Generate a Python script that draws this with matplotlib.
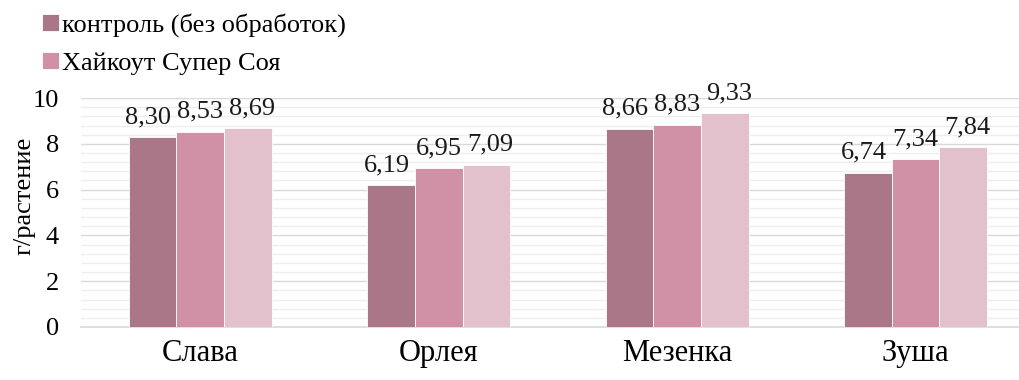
import numpy as np
import matplotlib
matplotlib.use('Agg')
import matplotlib.pyplot as plt
from matplotlib.ticker import MultipleLocator

plt.rcParams['font.family'] = ['Liberation Serif', 'DejaVu Serif']

# data
categories = ['Слава', 'Орлея', 'Мезенка', 'Зуша']
control = [8.30, 6.19, 8.66, 6.74]
haykout = [8.53, 6.95, 8.83, 7.34]
third = [8.69, 7.09, 9.33, 7.84]
series_names = ['контроль (без обработок)', 'Хайкоут Супер Соя', None]
colors = ['#A97787', '#D091A6', '#E3C1CC']

fig = plt.figure(figsize=(10.19, 3.80), dpi=100)
ax = fig.add_axes([0.0795, 0.1395, 0.936, 0.6025])

x = np.arange(len(categories))
w = 0.2
handles = []
for k, (vals, col) in enumerate(zip([control, haykout, third], colors)):
    bars = ax.bar(x + (k - 1) * w, vals, width=w, color=col,
                  edgecolor='white', linewidth=0.6, zorder=3)
    handles.append(bars)
    # outer labels nudged sideways a bit so they don't touch
    dx = (k - 1) * 3
    for b, v in zip(bars, vals):
        ax.annotate(('%.2f' % v).replace('.', ','),
                    (b.get_x() + b.get_width() / 2, v),
                    xytext=(dx, 10), textcoords='offset points',
                    ha='center', va='baseline', fontsize=19,
                    color='#1a1a1a')

ax.set_xlim(-0.5, 3.5)
ax.set_ylim(0, 10)
ax.yaxis.set_major_locator(MultipleLocator(2))
ax.yaxis.set_minor_locator(MultipleLocator(0.4))
ax.grid(which='major', axis='y', color='#D9D9D9', linewidth=1.0, zorder=0)
ax.grid(which='minor', axis='y', color='#EEEEEE', linewidth=1.0, zorder=0)
ax.set_xticks(x)
ax.set_xticklabels(categories, fontsize=22)
ax.tick_params(axis='y', labelsize=19, length=0, pad=16)
ax.tick_params(axis='x', length=0, pad=9)
ax.tick_params(which='minor', length=0)
for s in ['top', 'right', 'left']:
    ax.spines[s].set_visible(False)
ax.spines['bottom'].set_color('#D9D9D9')
ax.spines['bottom'].set_linewidth(1.2)
ax.set_ylabel('г/растение', fontsize=19)
ax.yaxis.set_label_coords(-0.0482, 0.572)

fig.legend(handles[:2], series_names[:2], loc='upper left',
           bbox_to_anchor=(0.028, 1.0), frameon=False, fontsize=19,
           handlelength=0.65, handleheight=0.65, handletextpad=0.1,
           labelspacing=0.55, borderaxespad=0.1)

fig.savefig('out.png', dpi=100)
